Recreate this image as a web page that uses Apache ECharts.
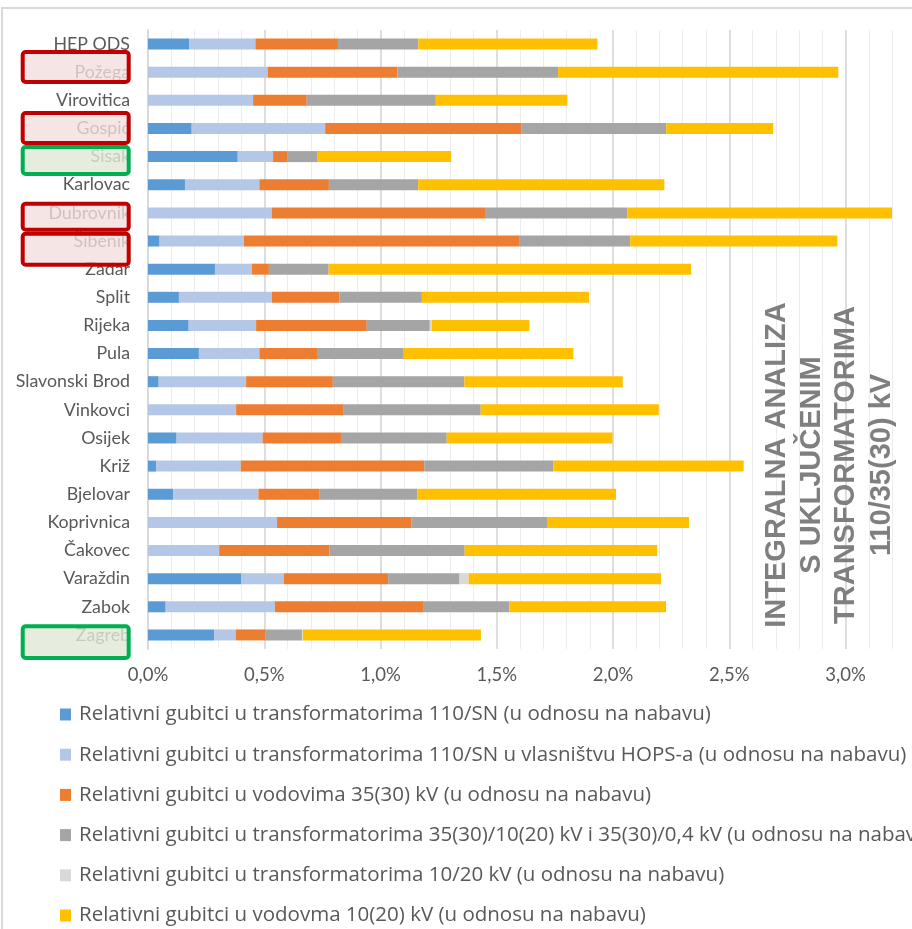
<!DOCTYPE html>
<html>
<head>
<meta charset="utf-8">
<title>Relativni gubitci</title>
<script src="https://cdn.jsdelivr.net/npm/echarts@6.0.0/dist/echarts.min.js"></script>
<style>
	html, body {margin: 0; padding: 0; background: #fff;}
	#chart {width: 912px; height: 929px;}
</style>
</head>
<body>
<div id="chart"></div>
<script>
var categories = ['HEP ODS', 'Požega', 'Virovitica', 'Gospić', 'Sisak', 'Karlovac', 'Dubrovnik', 'Šibenik', 'Zadar', 'Split', 'Rijeka', 'Pula', 'Slavonski Brod', 'Vinkovci', 'Osijek', 'Križ', 'Bjelovar', 'Koprivnica', 'Čakovec', 'Varaždin', 'Zabok', 'Zagreb'];

// vrijednosti u % (u odnosu na nabavu)
var trafo110 = [0.178, 0, 0, 0.188, 0.386, 0.159, 0, 0.050, 0.288, 0.133, 0.175, 0.219, 0.046, 0, 0.123, 0.036, 0.108, 0, 0, 0.400, 0.076, 0.284];
var trafo110Hops = [0.284, 0.515, 0.452, 0.574, 0.152, 0.320, 0.532, 0.363, 0.159, 0.400, 0.290, 0.260, 0.376, 0.379, 0.370, 0.363, 0.367, 0.555, 0.306, 0.184, 0.470, 0.093];
var vod35 = [0.355, 0.558, 0.231, 0.843, 0.060, 0.299, 0.921, 1.183, 0.073, 0.291, 0.476, 0.248, 0.373, 0.460, 0.337, 0.789, 0.261, 0.577, 0.475, 0.449, 0.637, 0.127];
var trafo35 = [0.346, 0.691, 0.555, 0.624, 0.129, 0.384, 0.608, 0.478, 0.257, 0.354, 0.271, 0.373, 0.566, 0.592, 0.455, 0.555, 0.422, 0.584, 0.581, 0.307, 0.371, 0.158];
var trafo1020 = [0, 0, 0, 0, 0, 0, 0, 0, 0, 0, 0.009, 0, 0, 0, 0, 0, 0, 0, 0, 0.039, 0, 0.004];
var vod1020 = [0.770, 1.205, 0.566, 0.460, 0.577, 1.059, 1.150, 0.891, 1.559, 0.719, 0.419, 0.730, 0.681, 0.766, 0.713, 0.819, 0.855, 0.611, 0.828, 0.828, 0.674, 0.766];

var seriesNames = [
	'Relativni gubitci u transformatorima 110/SN (u odnosu na nabavu)',
	'Relativni gubitci u transformatorima 110/SN u vlasništvu HOPS-a (u odnosu na nabavu)',
	'Relativni gubitci u vodovima 35(30) kV (u odnosu na nabavu)',
	'Relativni gubitci u transformatorima 35(30)/10(20) kV i 35(30)/0,4 kV (u odnosu na nabavu)',
	'Relativni gubitci u transformatorima 10/20 kV (u odnosu na nabavu)',
	'Relativni gubitci u vodovma 10(20) kV (u odnosu na nabavu)'
];
var seriesData = [trafo110, trafo110Hops, vod35, trafo35, trafo1020, vod1020];
var colors = ['#5b9bd5', '#b4c7e7', '#ed7d31', '#a5a5a5', '#d9d9d9', '#ffc000'];

var sideText = ['INTEGRALNA ANALIZA', 'S UKLJUČENIM', 'TRANSFORMATORIMA', '110/35(30) kV'];

var font = 'Lato';
var legendFont = 'Open Sans';

var chart = echarts.init(document.getElementById('chart'), null, {renderer: 'canvas'});

var series = seriesNames.map(function(name, i){
	return {
		name: name,
		type: 'bar',
		stack: 'ukupno',
		barWidth: 11,
		itemStyle: {color: colors[i]},
		emphasis: {disabled: true},
		data: seriesData[i]
	};
});

// oznake uz nazive (okviri)
function box(y, h, color, fill){
	return {
		type: 'rect',
		z: 100,
		shape: {x: 22.7, y: y, width: 106, height: h, r: 3},
		style: {stroke: color, lineWidth: 4, fill: fill}
	};
}
var red = '#c00000', redFill = 'rgba(242,222,222,0.78)';
var green = '#00b050', greenFill = 'rgba(224,232,214,0.8)';

var graphics = [
	{type: 'rect', z: -10, silent: true, shape: {x: 2, y: 8, width: 1000, height: 1000}, style: {stroke: '#d9d9d9', lineWidth: 2, fill: 'none'}},
	box(147, 27, green, greenFill),
	box(626.3, 31.7, green, greenFill),
	box(52, 30, red, redFill),
	box(113, 30, red, redFill),
	box(203.7, 26, red, redFill),
	box(233.7, 31, red, redFill)
];
var sideX = [776.7, 811.7, 846, 881.7];
sideText.forEach(function(t, i){
	graphics.push({
		type: 'text',
		x: sideX[i],
		y: 465,
		rotation: Math.PI / 2,
		z: 50,
		style: {
			text: t,
			font: 'bold 29px "Liberation Sans"',
			fill: '#7f7f7f',
			align: 'center',
			verticalAlign: 'middle',
			textAlign: 'center',
			textVerticalAlign: 'middle'
		}
	});
});

var option = {
	animation: false,
	backgroundColor: '#fff',
	color: colors,
	textStyle: {fontFamily: font},
	grid: {left: 148, right: 20, top: 30, bottom: 280, containLabel: false},
	legend: {
		orient: 'vertical',
		left: 60,
		top: 704,
		width: 2000,
		height: 400,
		padding: 0,
		itemWidth: 11,
		itemHeight: 12,
		itemGap: 19.2,
		icon: 'rect',
		selectedMode: false,
		data: seriesNames,
		textStyle: {fontFamily: legendFont, fontSize: 20.5, lineHeight: 20, color: '#595959', padding: [0, 0, 0, 3]}
	},
	xAxis: [{
		type: 'value',
		min: 0,
		max: 3.2,
		interval: 0.5,
		z: 2,
		axisLine: {show: false},
		axisTick: {show: false},
		splitLine: {show: true, showMaxLine: false, lineStyle: {color: '#d6d6d6', width: 1.5}},
		axisLabel: {
			showMaxLabel: false,
			margin: 17,
			fontFamily: font,
			fontSize: 18.5,
			color: '#595959',
			formatter: function(v){
				return v.toFixed(1).replace('.', ',') + '%';
			}
		}
	}, {
		// tanke pomoćne linije svakih 0,1 %
		type: 'value',
		position: 'top',
		min: 0,
		max: 3.2,
		interval: 0.1,
		z: 1,
		axisLine: {show: false},
		axisTick: {show: false},
		axisLabel: {show: false},
		splitLine: {show: true, lineStyle: {color: '#ededed', width: 1}}
	}],
	yAxis: {
		type: 'category',
		inverse: true,
		data: categories,
		axisTick: {show: false},
		axisLine: {show: true, lineStyle: {color: '#c8c8c8', width: 1.5}},
		axisLabel: {margin: 18, fontFamily: font, fontSize: 17.8, color: '#595959'}
	},
	series: series,
	graphic: graphics
};

chart.setOption(option);
</script>
</body>
</html>
